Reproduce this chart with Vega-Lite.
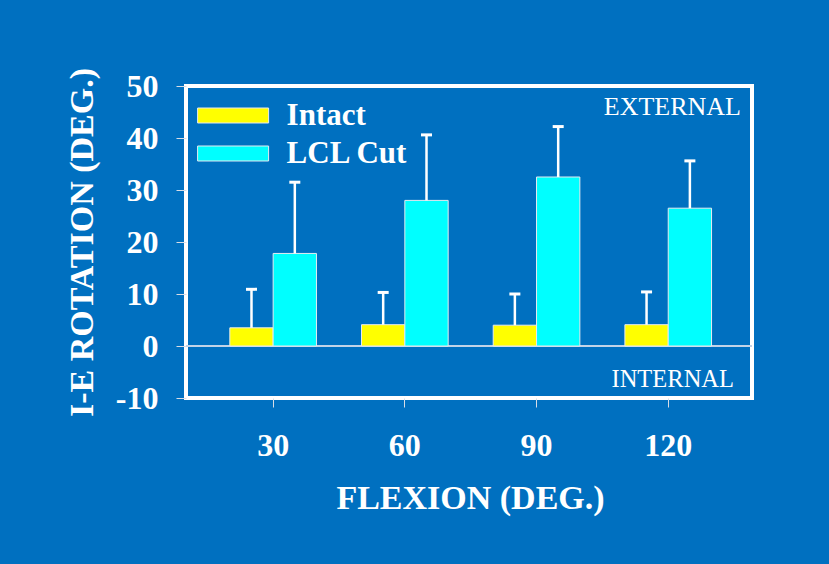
{
  "$schema": "https://vega.github.io/schema/vega-lite/v6.json",
  "width": 566,
  "height": 312,
  "autosize": {"type": "none"},
  "padding": {"left": 186, "top": 86, "right": 77, "bottom": 166},
  "background": "#0070C0",
  "config": {
    "view": {"stroke": "white", "strokeWidth": 4},
    "font": "Liberation Serif",
    "axis": {
      "domain": false,
      "grid": false,
      "tickColor": "#d8dde6",
      "tickWidth": 1,
      "labelColor": "white",
      "labelFont": "Liberation Serif",
      "labelFontWeight": "bold",
      "labelFontSize": 32,
      "titleColor": "white",
      "titleFont": "Liberation Serif",
      "titleFontWeight": "bold",
      "titleFontSize": 34
    },
    "legend": {
      "labelColor": "white",
      "labelFont": "Liberation Serif",
      "labelFontWeight": "bold",
      "labelFontSize": 31
    }
  },
  "datasets": {
    "bars": [
      {"flexion": "30", "condition": "Intact", "value": 3.5, "upper": 10.9},
      {"flexion": "30", "condition": "LCL Cut", "value": 17.8, "upper": 31.5},
      {"flexion": "60", "condition": "Intact", "value": 4.1, "upper": 10.3},
      {"flexion": "60", "condition": "LCL Cut", "value": 28.0, "upper": 40.6},
      {"flexion": "90", "condition": "Intact", "value": 4.0, "upper": 10.0},
      {"flexion": "90", "condition": "LCL Cut", "value": 32.5, "upper": 42.2},
      {"flexion": "120", "condition": "Intact", "value": 4.1, "upper": 10.4},
      {"flexion": "120", "condition": "LCL Cut", "value": 26.5, "upper": 35.6}
    ],
    "notes": [
      {"side": "EXTERNAL", "pos": 44.5},
      {"side": "INTERNAL", "pos": -7.9}
    ]
  },
  "layer": [
    {
      "data": {"name": "bars"},
      "mark": {"type": "rule", "color": "#c2d3e8", "strokeWidth": 1.5},
      "encoding": {"y": {"datum": 0, "type": "quantitative"}}
    },
    {
      "data": {"name": "bars"},
      "mark": {"type": "bar", "stroke": "#e6eaf0", "strokeWidth": 1},
      "encoding": {
        "x": {
          "field": "flexion",
          "type": "nominal",
          "sort": ["30", "60", "90", "120"],
          "scale": {"paddingInner": 0.342, "paddingOuter": 0.32, "align": 0.52},
          "axis": {
            "title": "FLEXION (DEG.)",
            "labelAngle": 0,
            "tickSize": 9,
            "labelPadding": 23,
            "titleBaseline": "alphabetic",
            "titleY": 110,
            "titleX": 284
          }
        },
        "xOffset": {
          "field": "condition",
          "type": "nominal",
          "sort": ["Intact", "LCL Cut"],
          "scale": {"paddingInner": 0, "paddingOuter": 0}
        },
        "y": {
          "field": "value",
          "type": "quantitative",
          "scale": {"domain": [-10, 50], "nice": false, "zero": false},
          "axis": {
            "title": "I-E ROTATION (DEG.)",
            "values": [-10, 0, 10, 20, 30, 40, 50],
            "labelExpr": "datum.value < 0 ? '-' + abs(datum.value) : datum.label",
            "tickSize": 10,
            "labelPadding": 18,
            "titleAngle": -90,
            "titleBaseline": "alphabetic",
            "titleAlign": "center",
            "titleX": -94,
            "titleY": 156
          }
        },
        "color": {
          "field": "condition",
          "type": "nominal",
          "scale": {"domain": ["Intact", "LCL Cut"], "range": ["#FFFF00", "#00FFFF"]},
          "legend": {
            "title": null,
            "orient": "none",
            "legendX": 31.6,
            "legendY": 14,
            "padding": 0,
            "symbolType": "M-4,-0.845L4,-0.845L4,0.845L-4,0.845Z",
            "symbolSize": 315,
            "symbolStrokeColor": "#e6eaf0",
            "symbolStrokeWidth": 1,
            "symbolOpacity": 1,
            "labelOffset": 38,
            "rowPadding": 6
          }
        }
      }
    },
    {
      "data": {"name": "bars"},
      "mark": {"type": "rule", "color": "white", "strokeWidth": 2.5},
      "encoding": {
        "x": {"field": "flexion", "type": "nominal", "sort": ["30", "60", "90", "120"]},
        "xOffset": {"field": "condition", "type": "nominal", "sort": ["Intact", "LCL Cut"]},
        "y": {"field": "value", "type": "quantitative"},
        "y2": {"field": "upper"}
      }
    },
    {
      "data": {"name": "bars"},
      "mark": {"type": "tick", "color": "white", "size": 11, "thickness": 3, "opacity": 1},
      "encoding": {
        "x": {"field": "flexion", "type": "nominal", "sort": ["30", "60", "90", "120"]},
        "xOffset": {"field": "condition", "type": "nominal", "sort": ["Intact", "LCL Cut"]},
        "y": {"field": "upper", "type": "quantitative"}
      }
    },
    {
      "data": {"name": "notes"},
      "transform": [{"filter": "datum.side === 'EXTERNAL'"}],
      "mark": {"type": "text", "color": "white", "font": "Liberation Serif", "fontSize": 26, "align": "right", "baseline": "alphabetic", "dx": -11},
      "encoding": {
        "x": {"value": "width"},
        "y": {"field": "pos", "type": "quantitative"},
        "text": {"field": "side"}
      }
    },
    {
      "data": {"name": "notes"},
      "transform": [{"filter": "datum.side === 'INTERNAL'"}],
      "mark": {"type": "text", "color": "white", "font": "Liberation Serif", "fontSize": 24.5, "align": "right", "baseline": "alphabetic", "dx": -18},
      "encoding": {
        "x": {"value": "width"},
        "y": {"field": "pos", "type": "quantitative"},
        "text": {"field": "side"}
      }
    }
  ]
}
